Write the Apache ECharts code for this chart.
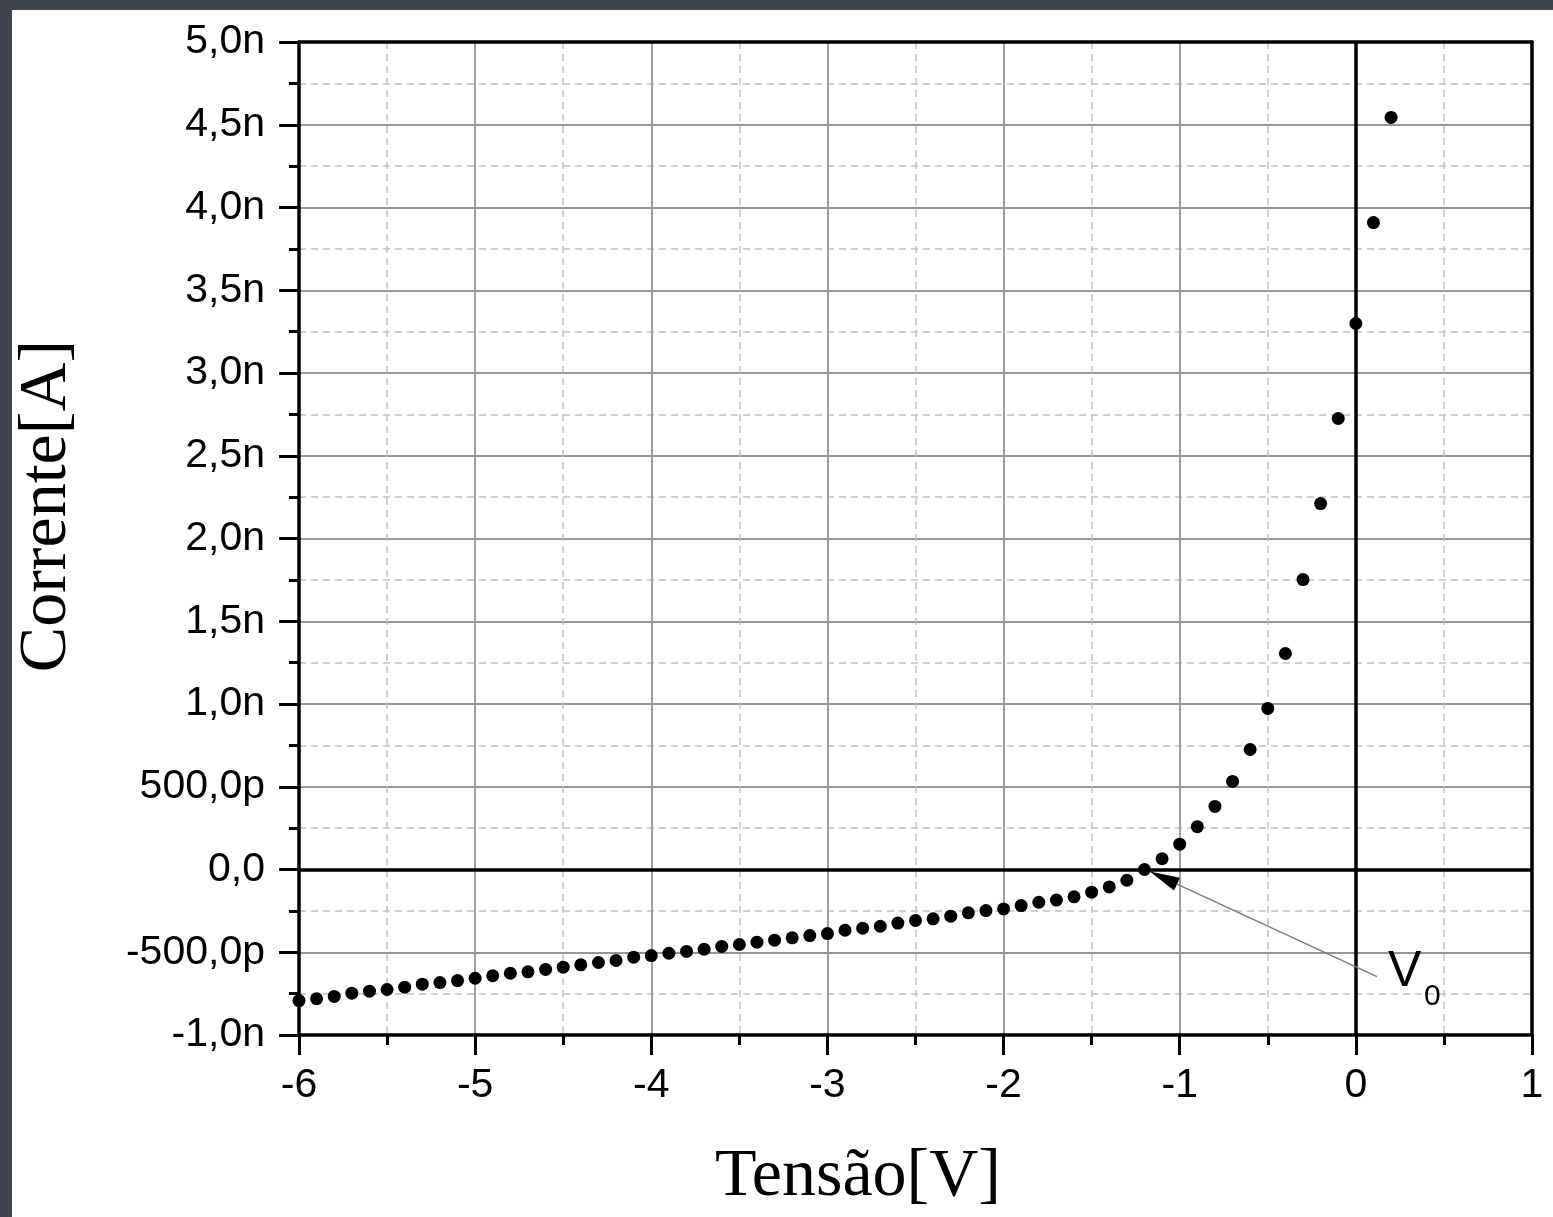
<!DOCTYPE html>
<html>
<head>
<meta charset="utf-8">
<script src="https://cdn.jsdelivr.net/npm/echarts@6/dist/echarts.min.js"></script>
<style>
  html, body { margin: 0; padding: 0; width: 1553px; height: 1217px; background: #40434b; overflow: hidden; }
  #c { position: absolute; left: 12px; top: 10px; width: 1541px; height: 1207px; background: #ffffff; }
</style>
</head>
<body>
<div id="c"></div>
<script>
// Voltage (V)
const voltage = [
  -6.0, -5.9, -5.8, -5.7, -5.6, -5.5, -5.4, -5.3, -5.2, -5.1,
  -5.0, -4.9, -4.8, -4.7, -4.6, -4.5, -4.4, -4.3, -4.2, -4.1,
  -4.0, -3.9, -3.8, -3.7, -3.6, -3.5, -3.4, -3.3, -3.2, -3.1,
  -3.0, -2.9, -2.8, -2.7, -2.6, -2.5, -2.4, -2.3, -2.2, -2.1,
  -2.0, -1.9, -1.8, -1.7, -1.6, -1.5, -1.4, -1.3, -1.2, -1.1,
  -1.0, -0.9, -0.8, -0.7, -0.6, -0.5, -0.4, -0.3, -0.2, -0.1,
  0.0, 0.1, 0.2
];
// Current (nA)
const current_nA = [
  -0.792, -0.781, -0.767, -0.747, -0.735, -0.725, -0.711, -0.693, -0.683, -0.671,
  -0.657, -0.642, -0.627, -0.618, -0.604, -0.590, -0.576, -0.562, -0.550, -0.530,
  -0.520, -0.506, -0.495, -0.482, -0.465, -0.453, -0.439, -0.427, -0.413, -0.399,
  -0.387, -0.367, -0.355, -0.343, -0.324, -0.308, -0.298, -0.282, -0.262, -0.248,
  -0.238, -0.218, -0.198, -0.185, -0.165, -0.137, -0.105, -0.065, 0.000, 0.065,
  0.153, 0.259, 0.381, 0.532, 0.725, 0.973, 1.305, 1.752, 2.211, 2.725,
  3.299, 3.909, 4.544
];
const xTickValues = [-6, -5, -4, -3, -2, -1, 0, 1];
const xTickLabels = ['-6', '-5', '-4', '-3', '-2', '-1', '0', '1'];
const yTickValues = [-1, -0.5, 0, 0.5, 1, 1.5, 2, 2.5, 3, 3.5, 4, 4.5, 5];
const yTickLabels = ['-1,0n', '-500,0p', '0,0', '500,0p', '1,0n', '1,5n', '2,0n', '2,5n', '3,0n', '3,5n', '4,0n', '4,5n', '5,0n'];
const xTitle = 'Tensão[V]';
const yTitle = 'Corrente[A]';
const annotationMain = 'V';
const annotationSub = '0';
const annotationTip = [-1.17, -0.012];
const annotationTail = [0.12, -0.647];

function lookup(values, labels, v) {
  const i = values.findIndex(t => Math.abs(t - v) < 1e-9);
  return i >= 0 ? labels[i] : '';
}

const points = voltage.map((v, i) => [v, current_nA[i]]);

const sansFont = "'Liberation Sans', Arial, Helvetica, sans-serif";
const serifFont = "'Liberation Serif', 'Times New Roman', serif";

const chart = echarts.init(document.getElementById('c'), null, { renderer: 'canvas' });

const axisLineStyle = { color: '#000', width: 3.5 };
const majorGrid = { show: true, showMinLine: false, showMaxLine: false, lineStyle: { color: '#969696', width: 1.8, type: 'solid' } };
const minorGrid = { show: true, lineStyle: { color: '#c0c0c0', width: 1.5, type: [7, 5] } };

chart.setOption({
  animation: false,
  backgroundColor: 'transparent',
  grid: { left: 287, top: 32, right: 21, bottom: 182, containLabel: false },
  xAxis: [
    {
      type: 'value', min: -6, max: 1, interval: 1,
      axisLine: { show: true, onZero: false, lineStyle: axisLineStyle },
      axisTick: { show: true, inside: false, length: 20, lineStyle: { color: '#000', width: 3 } },
      minorTick: { show: true, splitNumber: 2, length: 10, lineStyle: { color: '#000', width: 3 } },
      splitLine: majorGrid,
      minorSplitLine: minorGrid,
      axisLabel: {
        show: true, margin: 30, color: '#000', fontSize: 41, fontFamily: sansFont,
        formatter: v => lookup(xTickValues, xTickLabels, v)
      }
    },
    {
      type: 'value', min: -6, max: 1, position: 'top',
      axisLine: { show: true, onZero: false, lineStyle: axisLineStyle },
      axisTick: { show: false }, axisLabel: { show: false }, splitLine: { show: false }
    }
  ],
  yAxis: [
    {
      type: 'value', min: -1, max: 5, interval: 0.5,
      axisLine: { show: true, onZero: false, lineStyle: axisLineStyle },
      axisTick: { show: true, inside: false, length: 20, lineStyle: { color: '#000', width: 3 } },
      minorTick: { show: true, splitNumber: 2, length: 10, lineStyle: { color: '#000', width: 3 } },
      splitLine: majorGrid,
      minorSplitLine: minorGrid,
      axisLabel: {
        show: true, margin: 34, color: '#000', fontSize: 41, fontFamily: sansFont,
        formatter: v => lookup(yTickValues, yTickLabels, v)
      }
    },
    {
      type: 'value', min: -1, max: 5, position: 'right',
      axisLine: { show: true, onZero: false, lineStyle: axisLineStyle },
      axisTick: { show: false }, axisLabel: { show: false }, splitLine: { show: false }
    }
  ],
  series: [
    {
      type: 'scatter',
      xAxisIndex: 0, yAxisIndex: 0,
      data: points,
      symbol: 'circle',
      symbolSize: 13,
      itemStyle: { color: '#000', opacity: 1 },
      z: 5,
      markLine: {
        silent: true,
        symbol: ['none', 'none'],
        label: { show: false },
        lineStyle: { color: '#000', width: 3.5, type: 'solid', opacity: 1 },
        data: [{ xAxis: 0 }, { yAxis: 0 }]
      }
    }
  ]
});

// annotation arrow + titles
const tip = chart.convertToPixel({ gridIndex: 0 }, annotationTip);
const tail = chart.convertToPixel({ gridIndex: 0 }, annotationTail);
const dx = tip[0] - tail[0], dy = tip[1] - tail[1];
const len = Math.sqrt(dx * dx + dy * dy);
const ux = dx / len, uy = dy / len;
const headLen = 30, headHalf = 7;
const bx = tip[0] - ux * headLen, by = tip[1] - uy * headLen;
const px = -uy, py = ux;

chart.setOption({
  graphic: [
    {
      type: 'line', silent: true, z: 10,
      shape: { x1: tail[0], y1: tail[1], x2: bx, y2: by },
      style: { stroke: '#7a7a7a', lineWidth: 1.5 }
    },
    {
      type: 'polygon', silent: true, z: 10,
      shape: { points: [[tip[0], tip[1]], [bx + px * headHalf, by + py * headHalf], [bx - px * headHalf, by - py * headHalf]] },
      style: { fill: '#000' }
    },
    {
      type: 'text', silent: true, z: 10,
      x: tail[0] + 11, y: tail[1] - 4.5,
      style: { text: annotationMain, font: "50px " + sansFont, fill: '#000', align: 'left', verticalAlign: 'middle' }
    },
    {
      type: 'text', silent: true, z: 10,
      x: tail[0] + 47, y: tail[1] + 20.5,
      style: { text: annotationSub, font: "30px " + sansFont, fill: '#000', align: 'left', verticalAlign: 'middle' }
    },
    {
      type: 'text', silent: true, z: 10,
      x: 846, y: 1167,
      style: { text: xTitle, font: "68px " + serifFont, fill: '#000', align: 'center', verticalAlign: 'middle' }
    },
    {
      type: 'text', silent: true, z: 10,
      x: 35, y: 496, rotation: Math.PI / 2,
      style: { text: yTitle, font: "68px " + serifFont, fill: '#000', align: 'center', verticalAlign: 'middle' }
    }
  ]
});
</script>
</body>
</html>
